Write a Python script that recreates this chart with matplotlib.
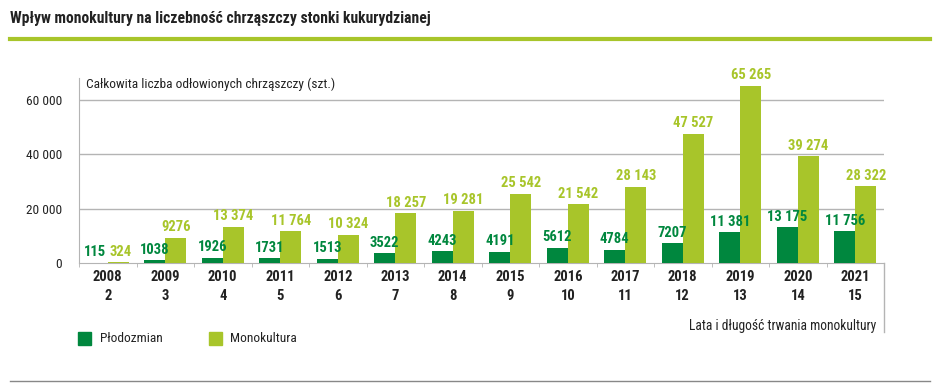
import numpy as np
import matplotlib.pyplot as plt
from matplotlib import font_manager as fm

years = ['2008', '2009', '2010', '2011', '2012', '2013', '2014',
         '2015', '2016', '2017', '2018', '2019', '2020', '2021']
mono_years = ['2', '3', '4', '5', '6', '7', '8', '9', '10', '11', '12', '13', '14', '15']
plodozmian = [115, 1038, 1926, 1731, 1513, 3522, 4243, 4191, 5612, 4784, 7207, 11381, 13175, 11756]
monokultura = [324, 9276, 13374, 11764, 10324, 18257, 19281, 25542, 21542, 28143, 47527, 65265, 39274, 28322]
yticks = [0, 20000, 40000, 60000]

DARK = '#00873e'
LIGHT = '#a8c52a'
GREY = '#b4b4b4'
INK = '#222222'

names = {f.name for f in fm.fontManager.ttflist}
font = 'Roboto'
scale = 1.0
for cand in ['Roboto Condensed', 'Liberation Sans Narrow', 'Arial Narrow']:
    if cand in names:
        font = cand
        scale = 1.2
        break
plt.rcParams['font.family'] = [font, 'DejaVu Sans']


def fmt(v):
    # space as thousands separator, 4-digit numbers stay together
    if v < 10000:
        return str(v)
    return f'{v:,}'.replace(',', ' ')


fig = plt.figure(figsize=(9.4, 3.87), dpi=100)
W, H = 940, 387
ax = fig.add_axes([79 / W, 1 - 263 / H, 805 / W, 185 / H])

x = np.arange(len(years))
bw = 0.365
ax.bar(x - bw / 2, plodozmian, bw, color=DARK, zorder=3)
ax.bar(x + bw / 2, monokultura, bw, color=LIGHT, zorder=3)

vs = 8.8 * scale
for i in range(len(years)):
    nudge = 0.04 if i == 0 else 0
    ax.text(x[i] - bw / 2 - nudge, plodozmian[i] + 1300, fmt(plodozmian[i]), ha='center', va='bottom',
            color=DARK, fontsize=vs, fontweight='bold')
    ax.text(x[i] + bw / 2 + nudge, monokultura[i] + 1300, fmt(monokultura[i]),
            ha='center', va='bottom', color=LIGHT, fontsize=vs, fontweight='bold')

ax.set_xlim(-0.5, len(years) - 0.5)
ax.set_ylim(0, 68100)
ax.set_yticks(yticks)
ax.set_yticklabels([fmt(v) if v else '0' for v in yticks], fontsize=8.0 * scale, color=INK)
for v in yticks[1:]:
    ax.axhline(v, color=GREY, lw=1, zorder=1)

ax.set_xticks(np.arange(len(years) + 1) - 0.5, minor=True)
ax.set_xticks([])
ax.tick_params(axis='x', which='minor', length=3, color=GREY)
ax.tick_params(axis='y', length=0, pad=12)
for s in ['top', 'right']:
    ax.spines[s].set_visible(False)
ax.spines['left'].set_color(GREY)
ax.spines['bottom'].set_color(GREY)

for i in range(len(years)):
    ax.text(x[i], -5300, years[i], ha='center', va='center', fontsize=8.8 * scale, fontweight='bold', color=INK)
    ax.text(x[i], -12300, mono_years[i], ha='center', va='center', fontsize=8.8 * scale, fontweight='bold', color=INK)

ax.text(0.009, 1.0, 'Całkowita liczba odłowionych chrząszczy (szt.)', transform=ax.transAxes,
        ha='left', va='top', fontsize=8.0 * scale, color=INK)

# right vertical line and axis caption
fig.add_artist(plt.Line2D([884 / W, 884 / W], [1 - 263 / H, 1 - 332 / H], color=GREY, lw=1))
fig.text(876 / W, 1 - 326 / H, 'Lata i długość trwania monokultury', ha='right', va='center',
         fontsize=8.1 * scale, color=INK)

# legend
fig.patches.append(plt.Rectangle((78 / W, 1 - 345 / H), 13 / W, 13 / H, color=DARK, transform=fig.transFigure))
fig.text(100 / W, 1 - 338 / H, 'Płodozmian', ha='left', va='center', fontsize=8.0 * scale, color=INK)
fig.patches.append(plt.Rectangle((209 / W, 1 - 345 / H), 13 / W, 13 / H, color=LIGHT, transform=fig.transFigure))
fig.text(230 / W, 1 - 338 / H, 'Monokultura', ha='left', va='center', fontsize=8.0 * scale, color=INK)

# title and rules
fig.text(10 / W, 1 - 18 / H, 'Wpływ monokultury na liczebność chrząszczy stonki kukurydzianej',
         ha='left', va='center', fontsize=9.4 * scale, fontweight='bold', color=INK)
fig.add_artist(plt.Line2D([10 / W, 930 / W], [1 - 39 / H, 1 - 39 / H], color=LIGHT, lw=3))
fig.add_artist(plt.Line2D([10 / W, 930 / W], [1 - 381 / H, 1 - 381 / H], color='#888888', lw=1))

fig.savefig('out.png', dpi=100)
